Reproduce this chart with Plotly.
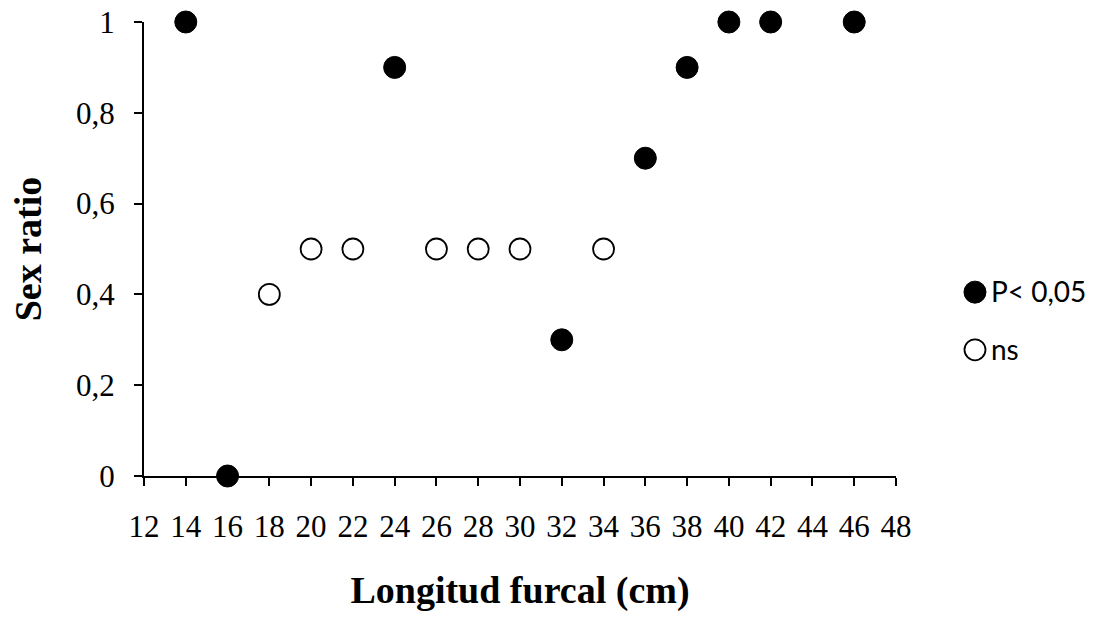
import plotly.graph_objects as go

sig_x = [14, 16, 24, 32, 36, 38, 40, 42, 46]
sig_y = [1, 0, 0.9, 0.3, 0.7, 0.9, 1, 1, 1]
ns_x = [18, 20, 22, 26, 28, 30, 34]
ns_y = [0.4, 0.5, 0.5, 0.5, 0.5, 0.5, 0.5]
x_ticks = list(range(12, 49, 2))
y_ticks = [0, 0.2, 0.4, 0.6, 0.8, 1]
y_labels = ["0", "0,2", "0,4", "0,6", "0,8", "1"]
legend_names = ["P< 0,05", "ns"]
legend_pos_y = [0.405, 0.278]

W, H = 1096, 617
ML, MR, MT, MB = 144, 4, 22, 141
plot_w = W - ML - MR
main_frac = (896 - ML) / plot_w

fill_marker = dict(size=22, color="black", line=dict(color="black", width=1))
open_marker = dict(size=21, color="white", line=dict(color="black", width=1.8))

fig = go.Figure()
fig.add_trace(go.Scatter(x=sig_x, y=sig_y, mode="markers", name=legend_names[0],
                         marker=fill_marker, cliponaxis=False, showlegend=False))
fig.add_trace(go.Scatter(x=ns_x, y=ns_y, mode="markers", name=legend_names[1],
                         marker=open_marker, cliponaxis=False, showlegend=False))

# custom legend (larger symbols than plotly's built-in legend allows)
fig.add_trace(go.Scatter(x=[0.403], y=[legend_pos_y[0]], xaxis="x2", yaxis="y2", mode="markers",
                         marker=fill_marker, cliponaxis=False, showlegend=False, hoverinfo="skip"))
fig.add_trace(go.Scatter(x=[0.403], y=[legend_pos_y[1]], xaxis="x2", yaxis="y2", mode="markers",
                         marker=open_marker, cliponaxis=False, showlegend=False, hoverinfo="skip"))
for name, yy in zip(legend_names, legend_pos_y):
    fig.add_annotation(x=0.403, y=yy, xref="x2", yref="y2", text=name, showarrow=False,
                       xanchor="left", yanchor="middle", xshift=14, yshift=1,
                       font=dict(family="Lato, Carlito, Liberation Sans, sans-serif", size=28, color="black"))

fig.update_layout(
    width=W, height=H,
    margin=dict(l=ML, r=MR, t=MT, b=MB),
    plot_bgcolor="white", paper_bgcolor="white",
    font=dict(family="Liberation Serif, Times New Roman, serif", color="black"),
    showlegend=False,
    xaxis=dict(domain=[0, main_frac], range=[12, 48], tickmode="array", tickvals=x_ticks,
               ticktext=[str(v) for v in x_ticks], automargin=False,
               showgrid=False, zeroline=False, showline=True, linecolor="black", linewidth=2,
               ticks="outside", ticklen=8, tickwidth=2, tickcolor="black",
               tickfont=dict(size=31), ticklabelstandoff=14,
               title=dict(text="<b>Longitud furcal (cm)</b>", font=dict(size=38), standoff=33)),
    yaxis=dict(range=[0, 1], tickmode="array", tickvals=y_ticks, ticktext=y_labels,
               automargin=False,
               showgrid=False, zeroline=False, showline=True, linecolor="black", linewidth=2,
               ticks="outside", ticklen=8, tickwidth=2, tickcolor="black",
               tickfont=dict(size=31), ticklabelstandoff=13,
               title=dict(text="<b>Sex ratio</b>", font=dict(size=38), standoff=23)),
    xaxis2=dict(domain=[main_frac, 1], range=[0, 1], visible=False, fixedrange=True, anchor="y2"),
    yaxis2=dict(domain=[0, 1], range=[0, 1], visible=False, fixedrange=True, anchor="x2"),
)
fig.write_html("out.html")
